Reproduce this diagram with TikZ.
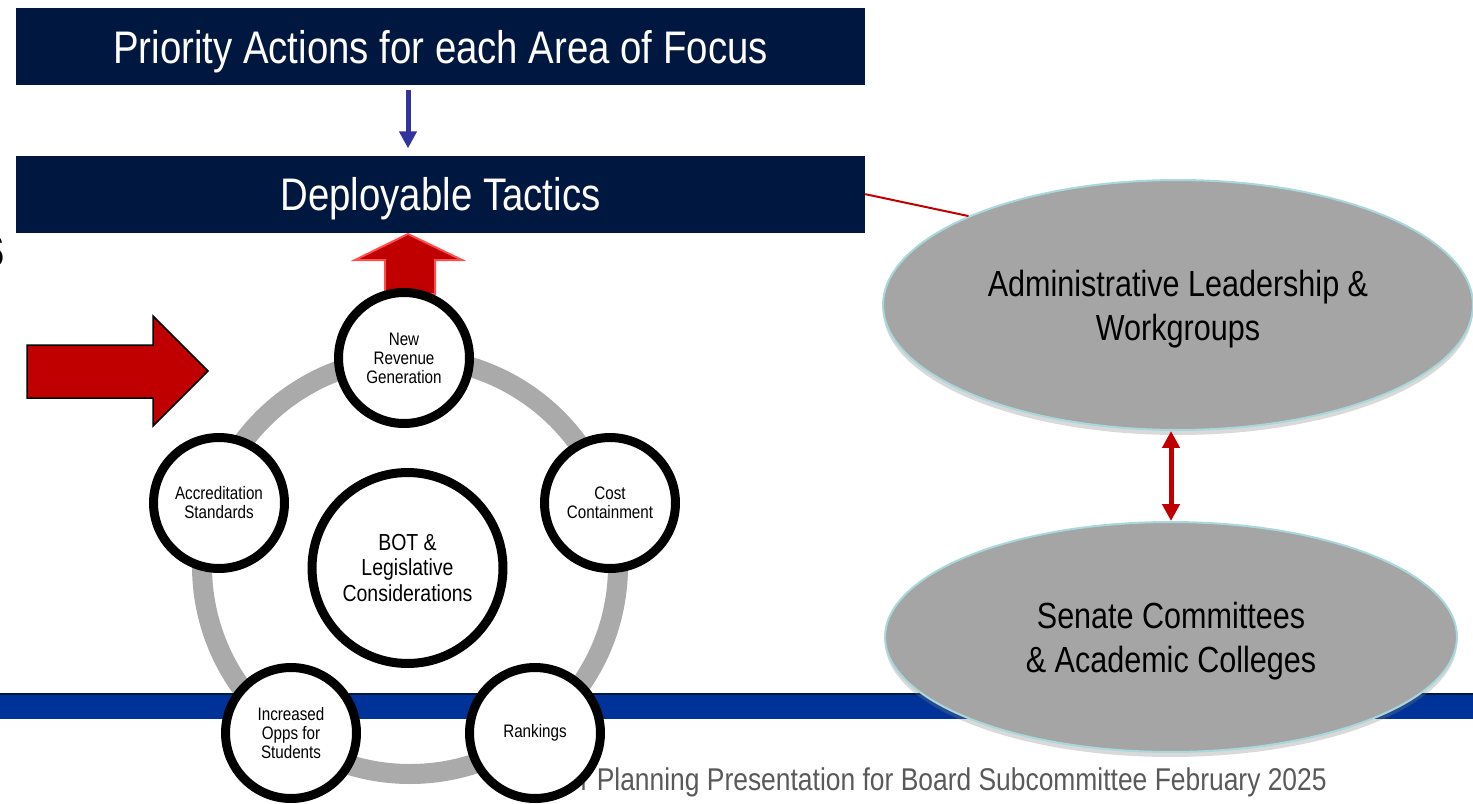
\documentclass[tikz,border=0pt]{standalone}
\usepackage{fontspec}
\setmainfont{Liberation Sans}[FakeStretch=0.84]
\usetikzlibrary{positioning,shapes.geometric,arrows.meta,shadows}
\definecolor{navy}{RGB}{0,24,64}
\definecolor{dark red}{RGB}{192,0,0}
\definecolor{arrow blue}{RGB}{51,51,160}
\definecolor{band blue}{RGB}{0,51,153}
\definecolor{oval gray}{RGB}{165,165,165}
\definecolor{oval edge}{RGB}{168,216,220}
\definecolor{ring gray}{RGB}{170,170,170}
\definecolor{footer gray}{RGB}{89,89,89}
\tikzset{
  navy box/.style={
    fill=navy,
    text=white,
    minimum width=16.98cm,
    minimum height=1.54cm,
    inner sep=0pt,
    text depth=0pt,
    font=\fontsize{26}{30}\selectfont,
  },
  topic circle/.style={
    circle,
    draw=black,
    fill=white,
    line width=0.18cm,
    minimum size={2*#1cm},
    inner sep=0pt,
    align=center,
    font=\fontsize{10.3}{10.8}\selectfont,
  },
  gray oval/.style={
    ellipse,
    fill=oval gray,
    draw=oval edge,
    line width=0.04cm,
    align=center,
    text depth=0pt,
    font=\fontsize{20.7}{25}\selectfont,
    drop shadow={shadow xshift=0cm, shadow yshift=-0.1cm, opacity=0.3},
  },
  red shape/.style={
    fill=dark red,
  }
}

\begin{document}
\begin{tikzpicture}[x=0.02cm, y=-0.02cm]
  \useasboundingbox (0,0) rectangle (1473,804);

  % footer band
  \fill[band blue] (0,693) rectangle (1473,719);
  \draw[navy, line width=0.03cm] (0,694) -- (1473,694);

  \node [anchor=base east, inner sep=0pt, font=\bfseries\fontsize{35}{40}\selectfont] (cut) at (6,267) {s};

  \node [navy box] (prio) at (440.5,46.5) {Priority Actions for each Area of Focus};
  \node [navy box, below=1.4cm of prio] (tactics) {Deployable Tactics};

  \draw [arrow blue, line width=0.1cm, -{Triangle[width=0.34cm,length=0.34cm]}]
    ([yshift=-0.1cm]prio.south -| 408,0) -- ([yshift=0.14cm]tactics.north -| 408,0);

  % big arrow on the left
  \draw [red shape, draw=black, line width=0.03cm]
    (27,345) -- (153,345) -- (153,316) -- (208,371) -- (153,426) -- (153,398) -- (27,398) -- cycle;

  % arrow up to the tactics
  \draw [red shape, draw=red!70, line width=0.04cm]
    (408,234) -- (462,260) -- (435,260) -- (435,294) -- (385,294) -- (385,260) -- (355,260) -- cycle;

  \draw [ring gray, line width=0.4cm] (410,566) circle (208);

  \node [anchor=base east, inner sep=0pt, text=footer gray, font=\fontsize{17.9}{20}\selectfont] (footer) at (1327,790)
    {r Planning Presentation for Board Subcommittee February 2025};

  \node [topic circle=1.91, font=\fontsize{13.2}{14.5}\selectfont] (bot) at (407.5,568) {BOT \&\\Legislative\\Considerations};
  \node [topic circle=1.31] (revenue) at (404,358) {New\\Revenue\\Generation};
  \node [topic circle=1.31] (cost) at (610,503) {Cost\\Containment};
  \node [topic circle=1.31] (rank) at (535,733) {Rankings};
  \node [topic circle=1.31] (opps) at (291,733) {Increased\\Opps for\\Students};
  \node [topic circle=1.31] (accred) at (219,503) {Accreditation\\Standards};

  \node [gray oval, minimum width=11.8cm, minimum height=5cm] (admin) at (1178,305)
    {Administrative Leadership \&\\Workgroups};
  \node [gray oval, minimum width=11.44cm, minimum height=4.6cm] (senate) at (1171,637)
    {Senate Committees\\\& Academic Colleges};

  \draw [dark red, line width=0.04cm] (tactics.east) -- (admin.157);
  \draw [dark red, line width=0.1cm, {Triangle[width=0.34cm,length=0.34cm]}-{Triangle[width=0.34cm,length=0.34cm]}]
    (admin.south -| senate.north) -- (senate.north);
\end{tikzpicture}
\end{document}
